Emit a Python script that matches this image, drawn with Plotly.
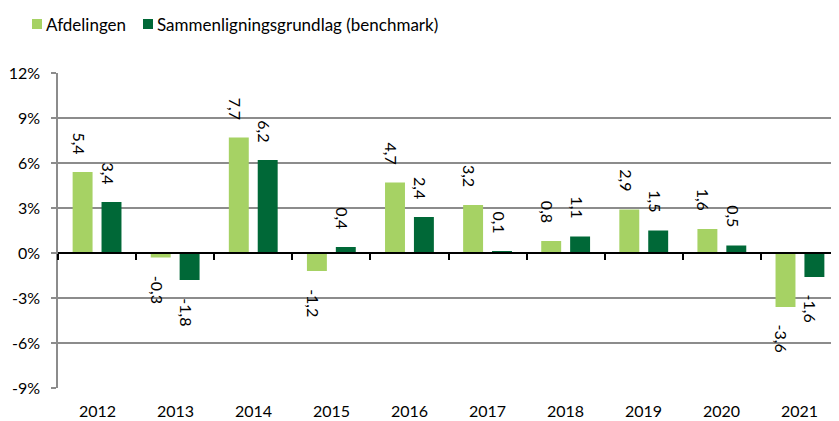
import plotly.graph_objects as go

years = ["2012", "2013", "2014", "2015", "2016", "2017", "2018", "2019", "2020", "2021"]
afdelingen = [5.4, -0.3, 7.7, -1.2, 4.7, 3.2, 0.8, 2.9, 1.6, -3.6]
benchmark = [3.4, -1.8, 6.2, 0.4, 2.4, 0.1, 1.1, 1.5, 0.5, -1.6]
series_names = ["Afdelingen", "Sammenligningsgrundlag (benchmark)"]
y_ticks = [-9, -6, -3, 0, 3, 6, 9, 12]
y_ticktext = [f"{v}%" for v in y_ticks]

LIGHT = "#A6D264"
DARK = "#006837"
GRID = "#8C8C8C"
FONT = "Lato"

# page body has an 8px default margin: compensate so the plot area lands
# at x 58..839, y 73..388 of the window
W, H = 831, 413
ML, MR, MT, MB = 50, 0, 65, 33
PW, PH = W - ML - MR, H - MT - MB


def px_x(sx):  # window x -> paper x
    return (sx - 58) / PW


def px_y(sy):  # window y -> paper y
    return (388 - sy) / PH


fig = go.Figure()
fig.add_trace(go.Bar(x=years, y=afdelingen, name=series_names[0], marker_color=LIGHT,
                     marker_line_width=0))
fig.add_trace(go.Bar(x=years, y=benchmark, name=series_names[1], marker_color=DARK,
                     marker_line_width=0))

annotations = []
for vals, shift in ((afdelingen, -14.5), (benchmark, 14.5)):
    for i, v in enumerate(vals):
        label = f"{v:.1f}".replace(".", ",")
        annotations.append(dict(
            x=i, y=v, xref="x", yref="y", xshift=shift - 3,
            yshift=16 if v >= 0 else -16,
            yanchor="bottom" if v >= 0 else "top",
            text=label, textangle=90, showarrow=False,
            font=dict(family=FONT, size=16, color="#000000")))
# year labels at the bottom of the plot area
for i, yr in enumerate(years):
    annotations.append(dict(
        x=i, y=0, xref="x", yref="paper", yanchor="top", yshift=-11,
        text=yr, showarrow=False, font=dict(family=FONT, size=16, color="#000000")))

# legend (drawn manually to match the compact layout)
shapes = []
legend_items = [(series_names[0], LIGHT, 32, 46), (series_names[1], DARK, 143, 157)]
for name, col, sq_x, tx_x in legend_items:
    shapes.append(dict(type="rect", xref="paper", yref="paper",
                       x0=px_x(sq_x), x1=px_x(sq_x + 10), y0=px_y(29), y1=px_y(19),
                       fillcolor=col, line=dict(width=0)))
    annotations.append(dict(x=px_x(tx_x - 2), y=px_y(24), xref="paper", yref="paper",
                            xanchor="left", yanchor="middle", text=name,
                            showarrow=False,
                            font=dict(family=FONT, size=17, color="#000000")))

fig.update_layout(
    width=W, height=H,
    margin=dict(l=ML, r=MR, t=MT, b=MB),
    paper_bgcolor="white", plot_bgcolor="white",
    font=dict(family=FONT, size=16, color="#000000"),
    barmode="group", bargap=0.26, bargroupgap=0.31,
    showlegend=False,
    annotations=annotations,
    shapes=shapes,
    xaxis=dict(type="category", anchor="free", position=3 / 7, range=[-0.5, 9.5],
               autorange=False,
               tickson="boundaries", ticks="outside", ticklen=6, tickwidth=2,
               tickcolor="#000000", showticklabels=False,
               showline=True, linecolor="#000000", linewidth=2, showgrid=False),
    yaxis=dict(range=[-9, 12], autorange=False, tickmode="array", tickvals=y_ticks,
               ticktext=y_ticktext,
               showgrid=True, gridcolor=GRID, gridwidth=1.5,
               showline=True, linecolor=GRID, linewidth=1.5,
               ticks="outside", ticklen=5, tickcolor=GRID, tickwidth=1.5,
               ticklabelstandoff=8,
               zeroline=False, tickfont=dict(size=16)),
)

fig.write_html("out.html")
